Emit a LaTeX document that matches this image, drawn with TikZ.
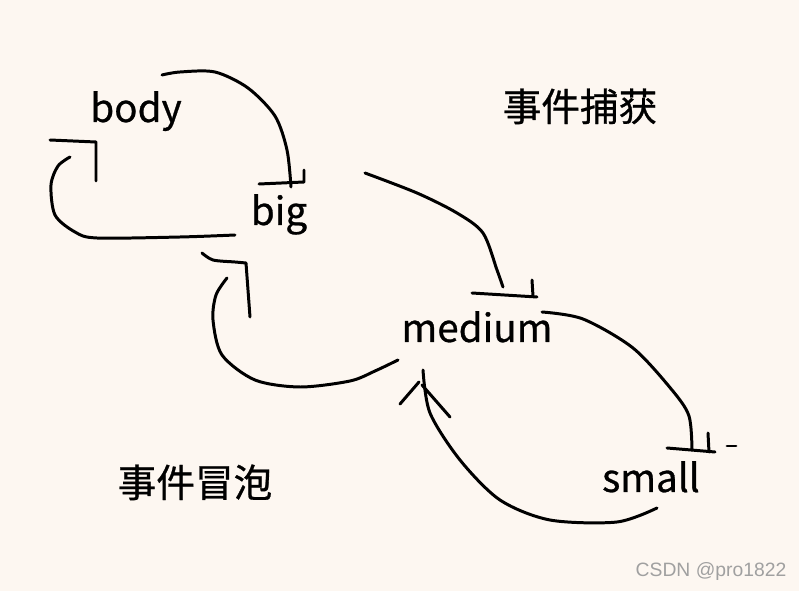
\documentclass[tikz,border=0pt]{standalone}
\usepackage{fontspec}
\setmainfont{Noto Sans CJK SC}
\newfontfamily\wordfont{Noto Sans CJK SC}[FakeBold=0.7]
\newfontfamily\markfont{Liberation Sans}
\usepackage{tikz}
\definecolor{paper}{HTML}{FDF7F1}
\definecolor{markgray}{HTML}{A0A0A0}

\begin{document}
\begin{tikzpicture}[x=0.02cm, y=-0.02cm,
  stroke/.style={line width=1.7pt, line cap=round, line join=round},
  word/.style={anchor=base, inner sep=0pt, font=\wordfont\fontsize{22}{26}\selectfont}]
  \fill[paper] (0,0) rectangle (799,591);

  % words
  \node (body)    [word] at (136,122) {body};
  \node (big)     [word] at (279,225) {big};
  \node (medium)  [word] at (477,342) {medium};
  \node (small)   [word] at (651,492) {small};
  \node (capture) [word] at (580,121) {事件捕获};
  \node (bubble)  [word] at (195,497) {事件冒泡};
  \node (mark) [anchor=base, inner sep=0pt, text=markgray, font=\markfont\fontsize{11}{13}\selectfont] at (711,577) {CSDN @pro1822};

  % stroke ends
  \coordinate (bodyOut) at (162,75);
  \coordinate (bigIn) at (291,187);
  \coordinate (bigBack) at (235,235);
  \coordinate (bodyIn) at (70,157);
  \coordinate (bigOut) at (365,173);
  \coordinate (mediumIn) at (503,287);
  \coordinate (mediumOut) at (542,312);
  \coordinate (smallIn) at (692,450);
  \coordinate (smallBack) at (657,508);
  \coordinate (mediumUp) at (423,370);
  \coordinate (mediumBack) at (398,360);
  \coordinate (bigUp) at (227,278);

  % capture: body -> big -> medium -> small
  \draw[stroke] plot[smooth] coordinates {(bodyOut) (180,72) (215,72) (248,88) (275,116) (287,150) (bigIn)};
  \draw[stroke] (259,184) -- (304,182) -- (304,170);
  \draw[stroke] plot[smooth] coordinates {(bigOut) (417,193) (457,213) (483,233) (497,270) (mediumIn)};
  \draw[stroke] (472,293) -- (537,297);
  \draw[stroke] (532,280) -- (533,296);
  \draw[stroke] plot[smooth] coordinates {(mediumOut) (583,319) (633,348) (672,390) (689,416) (smallIn)};
  \draw[stroke] (667,448) -- (715,452);
  \draw[stroke] (708,433) -- (709,452);
  \draw[stroke] (727,446) -- (736,446);

  % bubble: small -> medium -> big -> body
  \draw[stroke] plot[smooth] coordinates {(smallBack) (617,522) (550,520) (500,500) (460,460) (430,413) (mediumUp)};
  \draw[stroke] (400,404) -- (419,382);
  \draw[stroke] (450,417) -- (422,385);
  \draw[stroke] plot[smooth] coordinates {(mediumBack) (375,371) (350,381) (300,387) (255,380) (222,355) (213,320) (216,295) (bigUp)};
  \draw[stroke] plot[smooth] coordinates {(202,253) (213,260) (235,262) (246,263)} -- (250,317);
  \draw[stroke] plot[smooth] coordinates {(bigBack) (180,237) (97,238) (75,232) (55,215) (51,185) (58,166) (bodyIn)};
  \draw[stroke] (50,140) -- (96,142) -- (96,181);
\end{tikzpicture}
\end{document}
